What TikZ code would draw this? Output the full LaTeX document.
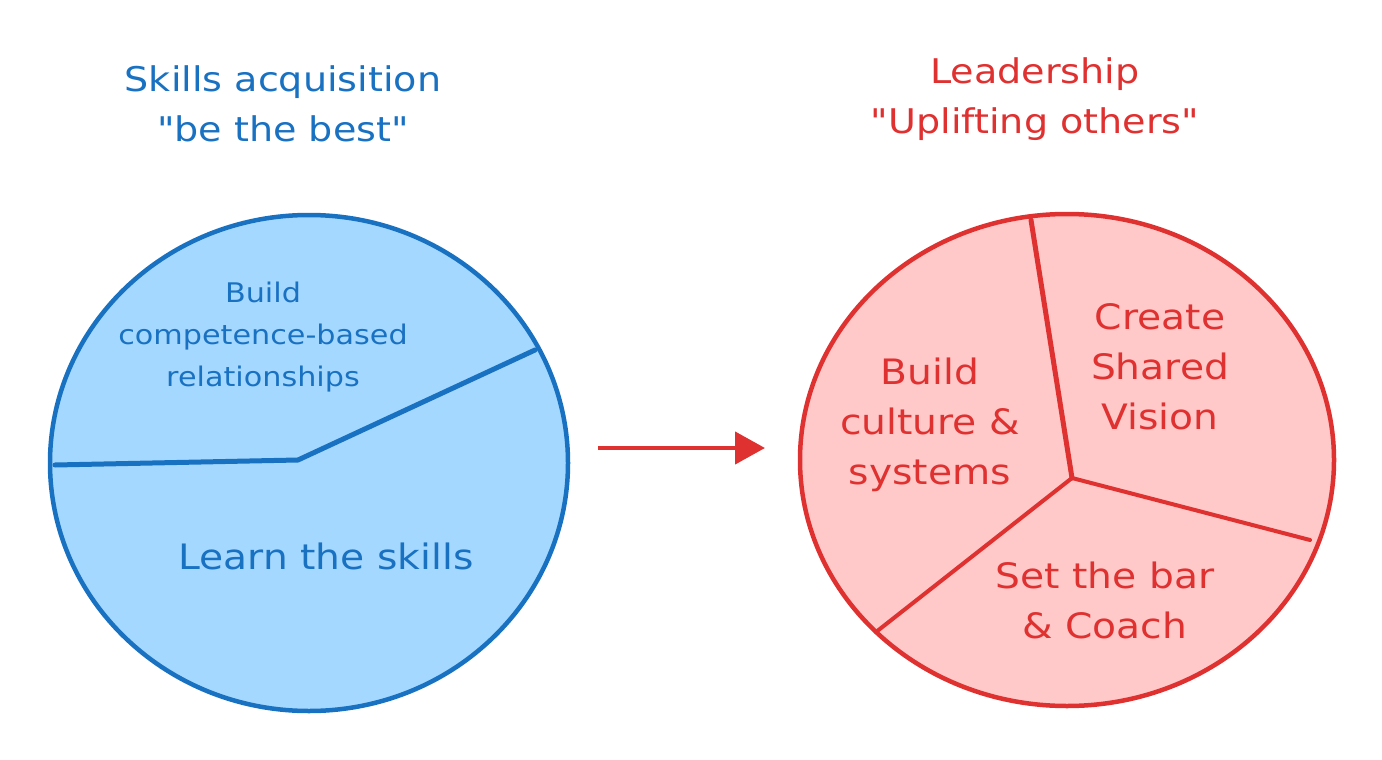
\documentclass[tikz,border=0pt]{standalone}
\usepackage{fontspec}
\newfontfamily\hand[FakeStretch=1.12]{DejaVu Sans}
\usetikzlibrary{arrows.meta}
\definecolor{bstroke}{HTML}{1971C2}
\definecolor{bfill}{HTML}{A5D8FF}
\definecolor{rstroke}{HTML}{E03131}
\definecolor{rfill}{HTML}{FFC9C9}
\tikzset{
  title/.style={align=center, font=\hand\fontsize{34}{50}\selectfont},
  label/.style={align=center, font=\hand\fontsize{35}{50}\selectfont},
  smalllabel/.style={align=center, font=\hand\fontsize{27}{42}\selectfont},
  pie/.style={line width=4.5pt},
  divider/.style={line width=5pt, line cap=round, line join=round},
}
\begin{document}
\begin{tikzpicture}[x=1pt,y=-1pt]
\useasboundingbox (0,0) rectangle (1382,760);
% left circle
\draw[pie, draw=bstroke, fill=bfill] (309,463) ellipse [x radius=259, y radius=248];
\coordinate (lc) at (298,460);
\coordinate (lw) at (55,465);
\coordinate (le) at (535,350);
\draw[divider, bstroke] (lw) -- (lc) -- (le);
% right circle
\draw[pie, draw=rstroke, fill=rfill] (1067,460) ellipse [x radius=267, y radius=246];
\coordinate (rc) at (1072,478);
\coordinate (rt) at (1031,220);
\coordinate (rr) at (1310,540);
\coordinate (rl) at (876,632);
\draw[divider, rstroke] (rt) -- (rc);
\draw[divider, rstroke, line width=4pt] (rc) -- (rr);
\draw[divider, rstroke, line width=4pt] (rc) -- (rl);
% titles
\node[title, text=bstroke] (t1) at (283,104) {Skills acquisition\\"be the best"};
\node[title, text=rstroke] (t2) at (1035,99) {Leadership\\"Uplifting others"};
% left labels
\node[smalllabel, text=bstroke] (l1) at (263,337) {Build\\competence-based\\relationships};
\node[label, text=bstroke] (l2) at (326,556) {Learn the skills};
% right labels
\node[label, text=rstroke] (r1) at (1160,367) {Create\\Shared\\Vision};
\node[label, text=rstroke] (r2) at (930,425) {Build\\culture \&\\systems};
\node[label, text=rstroke] (r3) at (1105,600) {Set the bar\\\& Coach};
% arrow
\coordinate (a1) at (598,448);
\coordinate (a2) at (765,448);
\draw[rstroke, line width=4.5pt, -{Triangle[length=30pt, width=32pt]}] (a1) -- (a2);
\end{tikzpicture}
\end{document}
